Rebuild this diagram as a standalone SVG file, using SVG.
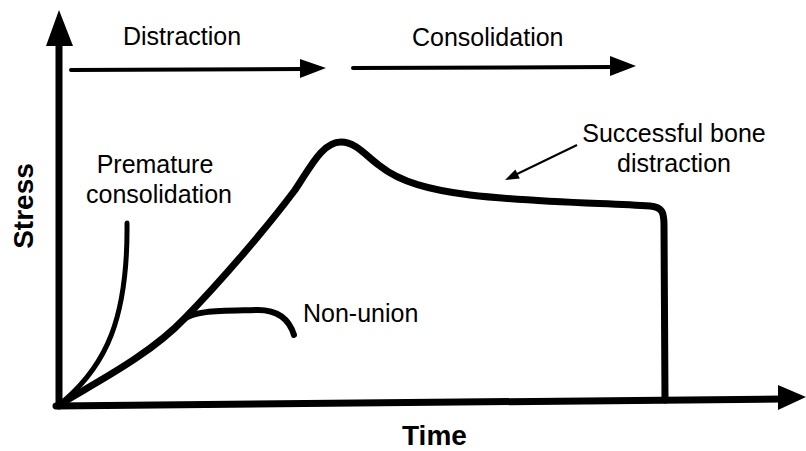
<svg xmlns="http://www.w3.org/2000/svg" width="806" height="451" viewBox="0 0 806 451">
<style>
text{font-family:"Liberation Sans",Arial,sans-serif;fill:#000}
.lbl{font-size:25px}
.ax{font-size:28px;font-weight:bold}
.line{fill:none;stroke:#000;stroke-linecap:round;stroke-linejoin:round}
</style>
<rect width="806" height="451" fill="#fff"/>
<g id="axes">
<line class="line" x1="59" y1="406" x2="59" y2="38" stroke-width="7"/>
<polygon points="59,10 46,46 73,46" fill="#000"/>
<line class="line" x1="56" y1="406" x2="782" y2="399" stroke-width="7"/>
<polygon points="806,397 778,385 778,410" fill="#000"/>
<text class="ax" transform="translate(33,206) rotate(-90)" text-anchor="middle">Stress</text>
<text class="ax" x="402" y="445">Time</text>
</g>
<g id="phases">
<line class="line" x1="71" y1="70" x2="304" y2="69" stroke-width="4"/>
<polygon points="326,68 300,59 300,78" fill="#000"/>
<text class="lbl" x="123" y="45">Distraction</text>
<line class="line" x1="353" y1="68" x2="614" y2="67" stroke-width="4"/>
<polygon points="636,66 610,56 610,76" fill="#000"/>
<text class="lbl" x="412" y="46">Consolidation</text>
</g>
<g id="curves">
<path class="line" stroke-width="7" d="M62,403 C95,383 150,355 185,318 C220,282 265,230 295,190 C310,168 322,142 341,142 C356,142 366,156 380,166 C400,182 430,190 470,195 C530,202 600,203 650,206 C662,207 664,212 664,225 L665,400"/>
<path class="line" stroke-width="5" d="M65,400 C105,365 128,320 127,223"/>
<path class="line" stroke-width="6" d="M183,320 C195,310 220,311 258,310 C280,310 290,322 294,335"/>
</g>
<g id="labels">
<text class="lbl" x="155" y="173" text-anchor="middle">Premature</text>
<text class="lbl" x="159" y="203" text-anchor="middle">consolidation</text>
<text class="lbl" x="303" y="322">Non-union</text>
<text class="lbl" x="674" y="142" text-anchor="middle">Successful bone</text>
<text class="lbl" x="674" y="172" text-anchor="middle">distraction</text>
<line x1="577" y1="145" x2="515" y2="175" stroke="#000" stroke-width="2"/>
<polygon points="505,180 519.8,178.4 515.4,169.4" fill="#000"/>
</g>
</svg>
